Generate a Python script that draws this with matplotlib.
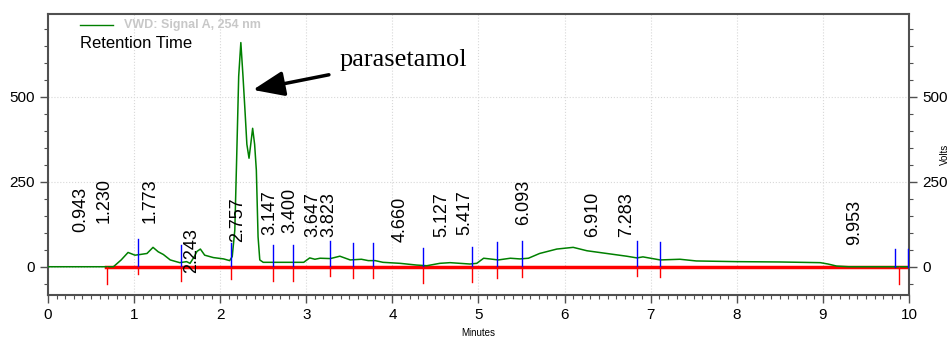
import matplotlib.pyplot as plt
import numpy as np
from matplotlib.ticker import MultipleLocator

plt.rcParams['font.family'] = ['Liberation Sans', 'DejaVu Sans']

# 色谱信号 (分钟, 信号值)
time_min = [0.0, 0.5, 0.76, 0.85, 0.93, 1.01, 1.07, 1.15, 1.22, 1.28, 1.34, 1.42,
            1.53, 1.61, 1.65, 1.70, 1.73, 1.77, 1.82, 1.92, 2.04, 2.11, 2.14,
            2.17, 2.19, 2.215, 2.24, 2.265, 2.29, 2.31, 2.335, 2.355, 2.377, 2.40,
            2.42, 2.44, 2.46, 2.50, 2.97, 3.04, 3.10, 3.16, 3.28, 3.39, 3.51,
            3.64, 3.72, 3.80, 3.89, 4.09, 4.28, 4.40, 4.55, 4.67, 4.90, 4.98,
            5.06, 5.13, 5.23, 5.37, 5.48, 5.58, 5.71, 5.91, 6.10, 6.26, 6.49,
            6.72, 6.84, 6.91, 7.11, 7.34, 7.53, 8.0, 8.5, 8.97, 9.06, 9.16,
            9.3, 10.0]
signal = [0, 0, 0, 20, 42, 34, 36, 39, 57, 44, 36, 20,
          12, 15, 10, 30, 45, 52, 34, 27, 23, 18, 30,
          108, 304, 560, 659, 560, 451, 360, 319, 360, 407, 360,
          284, 88, 20, 13, 13, 26, 22, 25, 24, 31, 20,
          22, 18, 18, 13, 10, 5, 3, 10, 12, 8, 10,
          25, 23, 20, 25, 23, 25, 39, 52, 57, 47, 39,
          31, 26, 29, 20, 22, 17, 15, 14, 12, 8, 2,
          0, 0]

# 保留时间标签: 文本, x位置(分钟), 文本底部y值
rt_labels = ['0.943', '1.230', '1.773', '2.243', '2.757', '3.147', '3.400', '3.647',
             '3.823', '4.660', '5.127', '5.417', '6.093', '6.910', '7.283', '9.953']
rt_label_x = [0.38, 0.65, 1.19, 1.67, 2.20, 2.58, 2.81, 3.08,
              3.26, 4.09, 4.57, 4.84, 5.52, 6.33, 6.72, 9.37]
rt_label_y = [102, 128, 128, -18, 73, 93, 99, 88,
              88, 73, 88, 93, 122, 88, 88, 64]

# 积分事件标记: 位置, 蓝线上端, 红线下端
mark_x = [0.68, 1.04, 1.54, 2.12, 2.61, 2.84, 3.28, 3.54, 3.77, 4.36, 4.93,
          5.22, 5.50, 6.84, 7.11, 9.84, 9.88, 9.99]
mark_up = [0, 83, 64, 69, 64, 64, 76, 70, 70, 55, 59, 74, 76, 76, 74, 52, 0, 52]
mark_down = [-51, -21, -41, -35, -41, -41, -27, -34, -34, -49, -46, -32, -29, -27,
             -31, 0, -52, 0]

fig = plt.figure(figsize=(9.52, 3.45), dpi=100)
ax = fig.add_axes([0.0504, 0.145, 0.9044, 0.8144])

# 基线
ax.plot([0.67, 10.0], [0, 0], color='#ff0000', lw=2.5, zorder=2)
ax.plot(time_min, signal, color='#008000', lw=1.1, zorder=3)

for x, up, dn in zip(mark_x, mark_up, mark_down):
    if up > 0:
        ax.plot([x, x], [0, up], color='#0000ff', lw=1, zorder=4)
    if dn < 0:
        ax.plot([x, x], [0, dn], color='#ff0000', lw=1, zorder=4)

for t, x, y in zip(rt_labels, rt_label_x, rt_label_y):
    ax.text(x, y, t, rotation=90, ha='center', va='bottom', fontsize=13, zorder=5)

# 图例
ax.plot([0.37, 0.755], [711, 711], color='#008000', lw=1)
ax.text(0.88, 711, 'VWD: Signal A, 254 nm', color='#c8c8c8', fontsize=9,
        fontweight='bold', va='center')
ax.text(0.37, 655, 'Retention Time', fontsize=12, va='center')

# 箭头标注
ax.annotate('parasetamol', xy=(2.38, 520), xytext=(3.39, 608),
            fontsize=19, family='Liberation Serif', va='center',
            arrowprops=dict(arrowstyle='-|>,head_width=0.4,head_length=1.0',
                            color='black', lw=2.5, shrinkA=6, shrinkB=0))

ax.set_xlim(0, 10)
ax.set_ylim(-83, 743)
ax.xaxis.set_major_locator(MultipleLocator(1))
ax.xaxis.set_minor_locator(MultipleLocator(0.1))
ax.yaxis.set_major_locator(MultipleLocator(250))
ax.yaxis.set_minor_locator(MultipleLocator(50))
ax.tick_params(which='both', direction='out', color='#505050', right=True,
               labelright=True, labelsize=11)
ax.tick_params(which='major', length=6, width=1)
ax.tick_params(which='minor', length=3, width=0.8)
ax.grid(True, which='major', color='#d8d8d8', linestyle=':', lw=0.8)
for s in ax.spines.values():
    s.set_color('#505050')
    s.set_linewidth(1.5)

ax.set_xlabel('Minutes', fontsize=7, labelpad=4)
ax.yaxis.set_label_position('right')
ax.set_ylabel('Volts', fontsize=7, rotation=90, va='center', ha='center')
ax.yaxis.set_label_coords(1.042, 0.5)

plt.savefig('out.png', dpi=100)
